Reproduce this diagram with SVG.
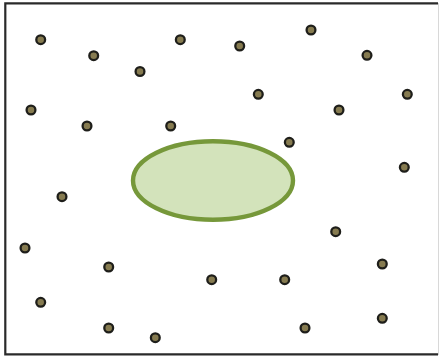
<svg xmlns="http://www.w3.org/2000/svg" width="441" height="357" viewBox="0 0 441 357">
<style>
.dot{fill:#867b50;stroke:#1e1e1a;stroke-width:2.3}
.frame{stroke:#2a2a2a;stroke-width:2.2;fill:none}
</style>
<rect x="0" y="0" width="441" height="357" fill="#ffffff"/>
<g id="frame">
<path class="frame" d="M438,3.3 H5.3 V354.4 H438"/>
<line x1="438.5" y1="3" x2="438.5" y2="355" stroke="#d8d8d8" stroke-width="1"/>
</g>
<g id="region">
<ellipse cx="213" cy="180.5" rx="80" ry="39.3" fill="#d3e3bb" stroke="#76983a" stroke-width="4.4"/>
</g>
<g id="points">
<circle class="dot" cx="40.7" cy="39.7" r="4.4"/>
<circle class="dot" cx="93.7" cy="55.7" r="4.4"/>
<circle class="dot" cx="140" cy="71.5" r="4.4"/>
<circle class="dot" cx="180.3" cy="39.7" r="4.4"/>
<circle class="dot" cx="31" cy="110" r="4.4"/>
<circle class="dot" cx="87" cy="126" r="4.4"/>
<circle class="dot" cx="170.7" cy="126" r="4.4"/>
<circle class="dot" cx="239.7" cy="46" r="4.4"/>
<circle class="dot" cx="311" cy="30" r="4.4"/>
<circle class="dot" cx="367" cy="55.3" r="4.4"/>
<circle class="dot" cx="258.3" cy="94.3" r="4.4"/>
<circle class="dot" cx="339" cy="110" r="4.4"/>
<circle class="dot" cx="407.3" cy="94.3" r="4.4"/>
<circle class="dot" cx="289.3" cy="142.3" r="4.4"/>
<circle class="dot" cx="404.3" cy="167.3" r="4.4"/>
<circle class="dot" cx="62" cy="196.7" r="4.4"/>
<circle class="dot" cx="25" cy="248" r="4.4"/>
<circle class="dot" cx="108.7" cy="267" r="4.4"/>
<circle class="dot" cx="40.7" cy="302.3" r="4.4"/>
<circle class="dot" cx="108.7" cy="328" r="4.4"/>
<circle class="dot" cx="155.3" cy="337.7" r="4.4"/>
<circle class="dot" cx="211.7" cy="279.7" r="4.4"/>
<circle class="dot" cx="335.7" cy="231.7" r="4.4"/>
<circle class="dot" cx="382.3" cy="264" r="4.4"/>
<circle class="dot" cx="284.7" cy="279.7" r="4.4"/>
<circle class="dot" cx="305" cy="328" r="4.4"/>
<circle class="dot" cx="382.3" cy="318.3" r="4.4"/>
</g>
</svg>
